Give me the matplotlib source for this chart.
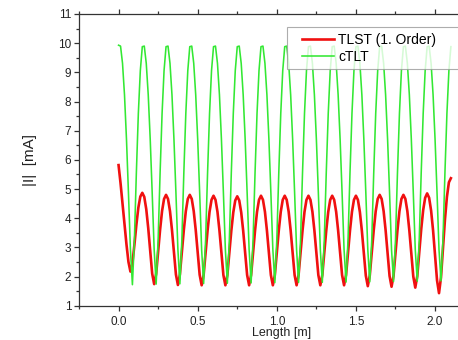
#!/usr/bin/env python3

import matplotlib

matplotlib.use("Agg")
import matplotlib.pyplot as plt
import numpy as np
from matplotlib.legend_handler import HandlerLine2D
from matplotlib.lines import Line2D
from matplotlib.ticker import MultipleLocator

plt.rcParams["font.family"] = ["Liberation Sans", "DejaVu Sans"]

# sample positions along the line [m], 12.5 mm step
length_m = np.linspace(0.0, 2.1, 169)

# |I| [mA], TLST first order (one row = one period)
tlst = [
    5.82, 5.20, 4.50, 3.80, 3.10, 2.50, 2.17, 2.45, 3.08, 3.77, 4.36, 4.74,
    4.87, 4.73, 4.31, 3.66, 2.86, 2.10, 1.74, 2.09, 2.83, 3.61, 4.25, 4.66,
    4.80, 4.66, 4.24, 3.60, 2.82, 2.07, 1.71, 2.07, 2.82, 3.60, 4.24, 4.66,
    4.80, 4.66, 4.24, 3.60, 2.82, 2.06, 1.70, 2.05, 2.80, 3.58, 4.22, 4.63,
    4.77, 4.63, 4.22, 3.58, 2.80, 2.05, 1.70, 2.05, 2.79, 3.57, 4.20, 4.61,
    4.75, 4.61, 4.20, 3.57, 2.79, 2.05, 1.70, 2.05, 2.80, 3.58, 4.22, 4.63,
    4.77, 4.63, 4.22, 3.58, 2.80, 2.05, 1.70, 2.05, 2.80, 3.58, 4.22, 4.63,
    4.77, 4.63, 4.22, 3.58, 2.80, 2.05, 1.70, 2.05, 2.80, 3.58, 4.22, 4.63,
    4.77, 4.63, 4.22, 3.58, 2.80, 2.05, 1.70, 2.05, 2.80, 3.58, 4.22, 4.63,
    4.77, 4.63, 4.22, 3.58, 2.80, 2.05, 1.70, 2.05, 2.80, 3.58, 4.22, 4.63,
    4.77, 4.63, 4.21, 3.57, 2.79, 2.03, 1.67, 2.04, 2.80, 3.59, 4.24, 4.66,
    4.80, 4.66, 4.24, 3.59, 2.79, 2.02, 1.65, 2.02, 2.79, 3.59, 4.24, 4.66,
    4.80, 4.66, 4.24, 3.58, 2.78, 2.00, 1.62, 2.01, 2.80, 3.62, 4.28, 4.70,
    4.85, 4.70, 4.26, 3.58, 2.72, 1.87, 1.43, 1.97, 2.97, 3.95, 4.73, 5.23,
    5.37,
]

# |I| [mA], cTLT
ctlt = [
    9.93, 9.90, 9.31, 8.23, 6.71, 4.87, 2.92, 1.72, 3.26, 5.56, 7.59, 9.06,
    9.88, 9.90, 9.31, 8.23, 6.71, 4.87, 2.92, 1.74, 3.26, 5.56, 7.59, 9.06,
    9.88, 9.90, 9.31, 8.23, 6.71, 4.87, 2.92, 1.75, 3.26, 5.56, 7.59, 9.06,
    9.88, 9.90, 9.31, 8.23, 6.71, 4.87, 2.92, 1.76, 3.26, 5.56, 7.59, 9.06,
    9.88, 9.90, 9.31, 8.23, 6.71, 4.87, 2.92, 1.77, 3.26, 5.56, 7.59, 9.06,
    9.88, 9.90, 9.31, 8.23, 6.71, 4.87, 2.92, 1.78, 3.26, 5.56, 7.59, 9.06,
    9.88, 9.90, 9.31, 8.23, 6.71, 4.87, 2.92, 1.79, 3.26, 5.56, 7.59, 9.06,
    9.88, 9.90, 9.31, 8.23, 6.71, 4.87, 2.92, 1.80, 3.26, 5.56, 7.59, 9.06,
    9.88, 9.90, 9.31, 8.23, 6.71, 4.87, 2.92, 1.80, 3.26, 5.56, 7.59, 9.06,
    9.88, 9.90, 9.31, 8.23, 6.71, 4.87, 2.92, 1.81, 3.26, 5.56, 7.59, 9.06,
    9.88, 9.90, 9.31, 8.23, 6.71, 4.87, 2.92, 1.82, 3.26, 5.56, 7.59, 9.06,
    9.88, 9.90, 9.31, 8.23, 6.71, 4.87, 2.92, 1.83, 3.26, 5.56, 7.59, 9.06,
    9.88, 9.90, 9.31, 8.23, 6.71, 4.87, 2.92, 1.84, 3.26, 5.56, 7.59, 9.06,
    9.88, 9.90, 9.31, 8.23, 6.71, 4.87, 2.92, 1.85, 3.26, 5.56, 7.59, 9.06,
    9.88,
]

series_labels = ["TLST (1. Order)", "cTLT"]
series_colors = ["#f01010", "#33e833"]


def main():
    fig = plt.figure(figsize=(4.58, 3.40), dpi=100)
    ax = fig.add_axes([79 / 458, 1 - 305.7 / 340, 379 / 458, 291.7 / 340])

    ax.plot(length_m, tlst, color=series_colors[0], lw=1.9, label=series_labels[0])
    ax.plot(length_m, ctlt, color=series_colors[1], lw=1.15, label=series_labels[1])

    ax.set_xlim(-0.25, 2.145)
    ax.set_ylim(1, 11)
    ax.xaxis.set_major_locator(MultipleLocator(0.5))
    ax.xaxis.set_minor_locator(MultipleLocator(0.25))
    ax.yaxis.set_major_locator(MultipleLocator(1))
    ax.yaxis.set_minor_locator(MultipleLocator(0.5))
    ax.xaxis.set_major_formatter(lambda v, p: f"{v:.1f}")

    ax.spines["right"].set_visible(False)
    for side in ["left", "top", "bottom"]:
        ax.spines[side].set_color("#333333")
        ax.spines[side].set_linewidth(0.9)

    ax.tick_params(which="both", direction="out", top=True, right=False,
                   color="#333333", width=0.9)
    ax.tick_params(which="major", length=3.6)
    ax.tick_params(which="minor", length=1.9)
    ax.tick_params(axis="x", labelsize=8.5, pad=3.5, labelcolor="#222222")
    ax.tick_params(axis="y", labelsize=8.5, pad=2, labelcolor="#222222")

    ax.set_ylabel("|I|  [mA]", fontsize=11, color="#222222")
    ax.yaxis.set_label_coords(-0.112, 0.5)
    # x label sits at the very bottom edge, as in the source picture
    ax.set_xlabel("Length [m]", fontsize=9, color="#222222")
    ax.xaxis.set_label_coords(0.535, -0.074)

    leg = ax.legend(
        loc="upper left",
        bbox_to_anchor=(0.549, 0.5, 0.49, 0.4554),
        mode="expand",
        fontsize=10,
        frameon=True,
        fancybox=False,
        borderaxespad=0,
        borderpad=0.4,
        labelspacing=0.22,
        handlelength=3.0,
        handletextpad=0.3,
        handler_map={Line2D: HandlerLine2D(xpad=0.7)},
    )
    leg.get_frame().set_edgecolor("#999999")
    leg.get_frame().set_linewidth(0.8)

    fig.savefig("out.png", dpi=100)


if __name__ == "__main__":
    main()
